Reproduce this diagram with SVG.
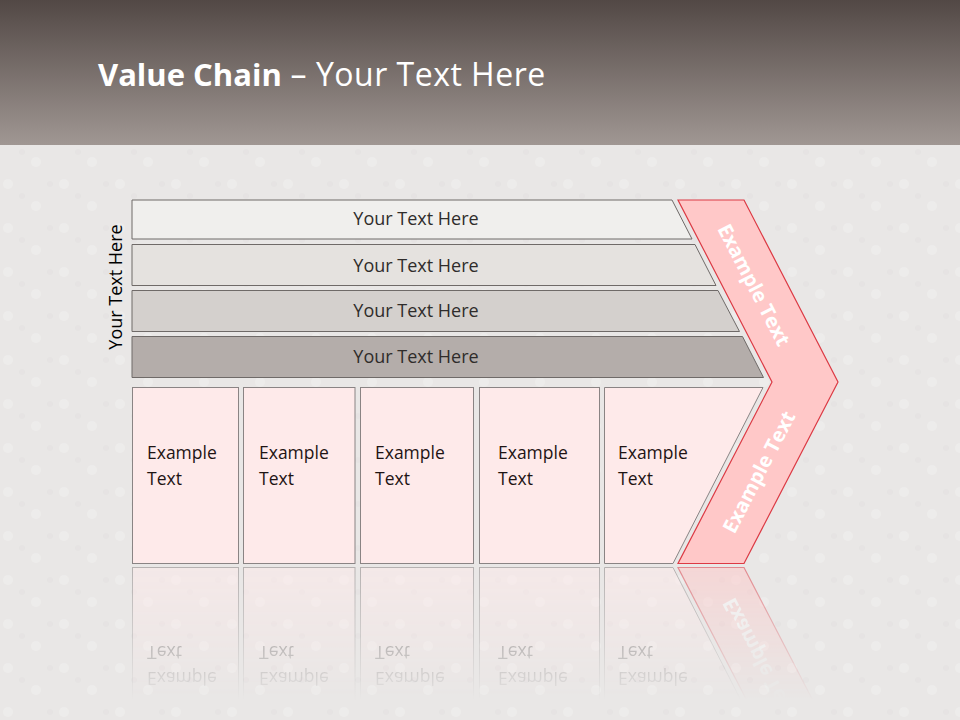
<svg xmlns="http://www.w3.org/2000/svg" xmlns:xlink="http://www.w3.org/1999/xlink" width="960" height="720" viewBox="0 0 960 720">
<style>
.bar{stroke:#6f6a68;stroke-width:1}
.box{fill:#feeaea;stroke:#8a8484;stroke-width:1}
.bt{font-family:"Open Sans","Liberation Sans",sans-serif;font-size:18px;fill:#2f2c2b;text-anchor:middle}
.et{font-family:"Open Sans","Liberation Sans",sans-serif;font-size:17.5px;fill:#1e1414}
.ct{font-family:"Open Sans","Liberation Sans",sans-serif;font-size:20px;font-weight:bold;fill:#ffffff;text-anchor:middle}
</style>
<defs>
<linearGradient id="hdr" x1="0" y1="0" x2="0" y2="1">
<stop offset="0" stop-color="#524845"/>
<stop offset="1" stop-color="#a09793"/>
</linearGradient>
<pattern id="tex" width="56" height="44" patternUnits="userSpaceOnUse">
<rect width="56" height="44" fill="#e9e7e6"/>
<circle cx="8" cy="8" r="5" fill="#f2f1f0" opacity="0.5"/>
<circle cx="36" cy="30" r="5" fill="#f2f1f0" opacity="0.5"/>
<circle cx="22" cy="20" r="3" fill="#dfdcdb" opacity="0.3"/>
<circle cx="50" cy="8" r="3" fill="#dfdcdb" opacity="0.3"/>
</pattern>
<linearGradient id="fade" x1="0" y1="565" x2="0" y2="700" gradientUnits="userSpaceOnUse">
<stop offset="0" stop-color="#fff" stop-opacity="0.55"/>
<stop offset="1" stop-color="#fff" stop-opacity="0"/>
</linearGradient>
<mask id="rm" maskUnits="userSpaceOnUse" x="0" y="565" width="960" height="155">
<rect x="0" y="565" width="960" height="155" fill="url(#fade)"/>
</mask>
</defs>
<rect width="960" height="720" fill="url(#tex)"/>
<rect width="960" height="145" fill="url(#hdr)"/>
<text x="98" y="86" font-family="'Open Sans','Liberation Sans',sans-serif" font-size="31" fill="#ffffff"><tspan font-weight="bold">Value Chain</tspan><tspan font-size="32" letter-spacing="0.5"> – Your Text Here</tspan></text>

<g id="side-label">
<text transform="translate(122,287) rotate(-90)" class="bt" style="fill:#000">Your Text Here</text>
</g>

<g id="bar1"><polygon class="bar" fill="#f0efed" points="132,200 672,200 692,239 132,239"/><text class="bt" x="416" y="225">Your Text Here</text></g>
<g id="bar2"><polygon class="bar" fill="#e5e2df" points="132,244.5 695,244.5 716,285.5 132,285.5"/><text class="bt" x="416" y="272">Your Text Here</text></g>
<g id="bar3"><polygon class="bar" fill="#d4d0cd" points="132,290.5 718,290.5 739.5,331.5 132,331.5"/><text class="bt" x="416" y="317">Your Text Here</text></g>
<g id="bar4"><polygon class="bar" fill="#b4adaa" points="132,336.5 742.5,336.5 763.5,377.5 132,377.5"/><text class="bt" x="416" y="363">Your Text Here</text></g>

<g id="lower">
<g id="box1"><rect class="box" x="132.5" y="387.5" width="106" height="176"/><text class="et" x="147" y="459">Example</text><text class="et" x="147" y="485">Text</text></g>
<g id="box2"><rect class="box" x="243.5" y="387.5" width="111.5" height="176"/><text class="et" x="259" y="459">Example</text><text class="et" x="259" y="485">Text</text></g>
<g id="box3"><rect class="box" x="360.5" y="387.5" width="113" height="176"/><text class="et" x="375" y="459">Example</text><text class="et" x="375" y="485">Text</text></g>
<g id="box4"><rect class="box" x="479.5" y="387.5" width="120" height="176"/><text class="et" x="498" y="459">Example</text><text class="et" x="498" y="485">Text</text></g>
<g id="box5"><polygon class="box" points="604.5,387.5 763,387.5 673,563.5 604.5,563.5"/><text class="et" x="618" y="459">Example</text><text class="et" x="618" y="485">Text</text></g>
<g id="chevron">
<polygon points="678,200 744,200 838,382 744,563.5 678,563.5 772,382" fill="#ffc8c8" stroke="#dc3a44" stroke-width="1.2"/>
<text class="ct" transform="translate(754,285) rotate(62.7)" dy="7">Example Text</text>
<text class="ct" transform="translate(759,472) rotate(-62.7)" dy="7">Example Text</text>
</g>
</g>

<g id="reflection" mask="url(#rm)">
<use xlink:href="#lower" href="#lower" transform="translate(0,1131) scale(1,-1)"/>
</g>
</svg>
